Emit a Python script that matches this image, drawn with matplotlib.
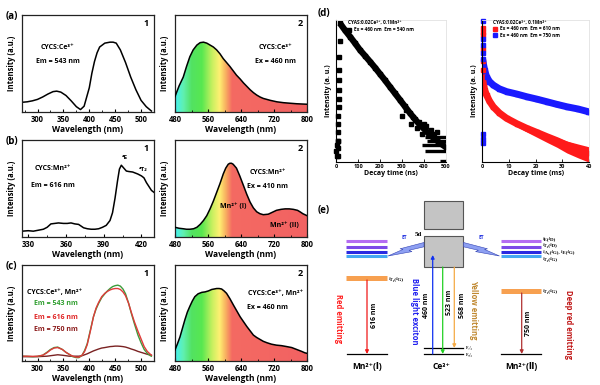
import numpy as np
import matplotlib
matplotlib.use('Agg')
import matplotlib.pyplot as plt
from matplotlib.colors import LinearSegmentedColormap
from matplotlib.patches import Polygon, Rectangle
from matplotlib.ticker import NullLocator

plt.rcParams['font.family'] = ['Open Sans', 'DejaVu Sans', 'Noto Sans CJK SC']
plt.rcParams['font.weight'] = 'bold'

# ---------------- data ----------------
a1_wl = [270, 280, 290, 300, 310, 320, 330, 337, 345, 355, 365, 375, 383, 390, 400, 405, 410, 415, 420, 430, 440, 446, 452, 460, 470, 480, 490, 500, 510, 520]
a1_int = [.10, .105, .115, .13, .155, .185, .21, .215, .205, .17, .115, .055, .025, .06, .25, .40, .52, .61, .67, .71, .72, .72, .71, .64, .51, .36, .23, .12, .055, .01]

a2_wl = [480, 490, 500, 508, 516, 524, 533, 541, 549, 557, 565, 573, 581, 589, 597, 605, 613, 621, 629, 638, 646, 654, 662, 670, 678, 686, 694, 711, 727, 743, 760, 775, 790, 800]
a2_int = [.16, .27, .36, .47, .57, .64, .69, .715, .72, .71, .69, .67, .64, .60, .55, .51, .47, .425, .38, .34, .30, .265, .23, .20, .175, .155, .14, .12, .105, .096, .09, .085, .082, .08]

b1_wl = [325, 330, 334, 338, 342, 345, 348, 351, 354, 358, 361, 364, 367, 370, 374, 377, 380, 383, 386, 389, 392, 395, 397, 399, 401, 402.5, 404, 406, 408, 410, 413, 417, 420, 422, 424, 426, 428, 430]
b1_int = [.06, .065, .06, .07, .08, .10, .135, .14, .145, .14, .14, .145, .135, .13, .095, .085, .08, .08, .085, .10, .12, .17, .25, .40, .58, .70, .74, .71, .68, .675, .67, .65, .63, .61, .56, .52, .48, .46]

b2_wl = [480, 490, 500, 508, 516, 525, 533, 541, 549, 557, 565, 573, 581, 589, 597, 603, 609, 613, 617, 621, 629, 637, 646, 654, 662, 670, 678, 686, 694, 706, 716, 726, 737, 747, 757, 767, 777, 783, 790, 800]
b2_int = [.10, .09, .085, .08, .08, .085, .10, .13, .17, .22, .29, .37, .46, .55, .65, .71, .75, .76, .76, .75, .71, .63, .53, .44, .36, .30, .26, .24, .23, .235, .255, .275, .285, .29, .29, .285, .275, .26, .24, .22]

c1_wl = [270, 280, 291, 300, 310, 318, 325, 332, 339, 348, 355, 361, 368, 375, 380, 386, 391, 396, 402, 408, 413, 418, 424, 430, 435, 440, 445, 450, 455, 460, 465, 470, 476, 481, 487, 494, 500, 506, 512, 518, 520]
c1_em543 = [.05, .048, .045, .048, .06, .09, .12, .14, .145, .12, .09, .07, .045, .035, .035, .06, .11, .18, .32, .46, .54, .60, .66, .70, .73, .755, .775, .785, .79, .78, .75, .70, .60, .50, .39, .27, .19, .12, .08, .055, .05]
c1_em616 = [.05, .05, .048, .05, .06, .085, .115, .135, .14, .12, .09, .07, .05, .04, .04, .06, .10, .17, .31, .46, .55, .61, .67, .705, .725, .74, .75, .755, .755, .745, .72, .68, .60, .51, .41, .31, .23, .15, .10, .07, .06]
c1_em750 = [.045, .045, .045, .045, .048, .05, .055, .06, .065, .06, .055, .05, .05, .05, .05, .055, .065, .075, .09, .105, .115, .125, .135, .14, .145, .15, .152, .155, .155, .153, .15, .145, .135, .125, .115, .10, .09, .08, .07, .062, .06]

c2_wl = [480, 486, 492, 498, 504, 510, 516, 522, 528, 536, 545, 553, 561, 569, 575, 581, 587, 593, 599, 605, 613, 622, 630, 638, 646, 654, 662, 670, 678, 686, 694, 703, 714, 726, 738, 751, 763, 775, 787, 795, 800]
c2_int = [.115, .18, .25, .34, .43, .51, .57, .625, .67, .70, .715, .72, .73, .745, .75, .755, .755, .75, .73, .705, .65, .58, .52, .46, .41, .36, .315, .27, .245, .225, .205, .19, .175, .165, .16, .15, .14, .12, .10, .085, .08]

spec_stops = [(480, '#45f0f0'), (500, '#60f0b0'), (520, '#52e262'), (545, '#58e850'), (570, '#c8f060'),
              (588, '#fff072'), (603, '#f8b060'), (618, '#f46a62'), (800, '#f26262')]

# decay curves (d)
d1_t = [18, 40, 64, 87, 109, 132, 155, 178, 200, 223, 245, 268, 291, 313, 336, 359, 382, 405, 427, 450, 473, 500]
d1_I = [8100, 5240, 3390, 2200, 1430, 980, 668, 450, 302, 200, 132, 86, 56, 37, 24, 16, 11, 8, 5.7, 4.4, 3.4, 2.6]
d1_rise_t = [9, 9, 10, 10, 11, 11, 12, 12, 13, 13, 14, 15, 16, 2, 4, 6, 8]
d1_rise_I = [1.5, 2.5, 4, 7, 12, 20, 35, 60, 110, 200, 400, 900, 2500, 2, 3, 1.5, 4]
d1_noise_t = [300, 320, 340, 352, 366, 378, 392, 400, 408, 418, 430, 445, 460]
d1_noise_I = [20, 30, 12, 18, 9, 13, 6, 12, 10, 7, 8, 6, 7]
d1_band_lvl = [5, 4, 3, 2, 1.1]
d1_band_start = [404, 412, 390, 404, 473]

d2_blue_t = [0.5, 1.0, 1.7, 2.8, 4.2, 6.5, 9.2, 13, 16.7, 20.5, 24.2, 28, 31.7, 36, 39.8]
d2_blue_I = [600, 380, 252, 185, 147, 115, 96, 82, 69, 59, 50, 42, 36, 31, 26]
d2_red_t = [0.25, 0.6, 1.0, 1.7, 2.8, 4.2, 6.5, 9.2, 13, 16.7, 20.5, 24.2, 28, 31.7, 36, 39.8]
d2_red_I = [230, 150, 105, 77, 52, 36, 24, 17, 12, 8.9, 6.8, 5.2, 4.0, 3.0, 2.3, 1.76]
d2_red_band_t = [13, 16.7, 20.5, 24.2, 28, 31.7, 36, 39.8]
d2_red_band_hi = [13, 10, 7.8, 6.2, 4.9, 3.9, 3.2, 2.7]
d2_red_band_lo = [10, 7.0, 5.0, 3.6, 2.6, 1.8, 1.3, 1.0]
d2_blue_col_I = [9600, 3000, 2000, 1200, 800, 6, 4.5, 3.5]
d2_red_col_I = [6000, 4700, 3900, 1500, 700, 400]

# energy diagram (e), positions in figure pixels
mn_levels_y = [241, 246.5, 251.5, 255.5]
mn_level_colors = ['#b46cf2', '#7c48e8', '#2a2ae0', '#44a8f2']
mn_level_names = ['⁴E(⁴D)', '⁴T₂(⁴D)', '⁴A₁(⁴G), ⁴E(⁴G)', '⁴T₂(⁴G)']
mn_level_name_y = [238.5, 246, 252.7, 259.3]

W, H = 600, 385
fig = plt.figure(figsize=(6, 3.85), dpi=100)


def add_ax(x0, y0, x1, y1):
    return fig.add_axes([x0 / W, 1 - y1 / H, (x1 - x0) / W, (y1 - y0) / H])


spec_cmap = LinearSegmentedColormap.from_list(
    'spec', [((w - 480) / 320, c) for w, c in spec_stops])


def spec_axes(ax, xlim, xticks, minor):
    ax.set_xlim(*xlim)
    ax.set_ylim(0, 1)
    ax.set_xticks(xticks)
    ax.set_xticks(minor, minor=True)
    ax.set_yticks([])
    ax.tick_params(axis='x', direction='in', length=2.5, width=0.8, labelsize=5.5, pad=2)
    ax.tick_params(axis='x', which='minor', direction='in', length=1.5, width=0.6)
    for s in ax.spines.values():
        s.set_linewidth(0.9)
        s.set_color('#222222')
    ax.set_xlabel('Wavelength (nm)', fontsize=6, fontweight='bold', labelpad=1)
    ax.set_ylabel('Intensity (a.u.)', fontsize=5.5, fontweight='bold', labelpad=4)


def grad_fill(ax, x, y):
    poly, = ax.fill(np.r_[x, x[-1], x[0]], np.r_[y, 0, 0], facecolor='none', edgecolor='none')
    grad = np.linspace(0, 1, 256).reshape(1, -1)
    im = ax.imshow(grad, extent=[480, 800, 0, 1], aspect='auto', cmap=spec_cmap,
                   origin='lower', zorder=1, interpolation='bilinear')
    im.set_clip_path(poly)
    ax.plot(x, y, color='k', lw=1.1, zorder=3)


left_ticks = [300, 350, 400, 450, 500]
left_minor = [275, 325, 375, 425, 475, 525]
right_ticks = [480, 560, 640, 720, 800]
right_minor = [520, 600, 680, 760]

# ---- a1 ----
ax = add_ax(22, 15, 154, 112)
ax.plot(a1_wl, a1_int, color='k', lw=1.1)
spec_axes(ax, (270, 520), left_ticks, left_minor)
ax.text(0.96, 0.91, '1', transform=ax.transAxes, ha='right', va='center', fontsize=6.5)
ax.text(0.27, 0.66, 'CYCS:Ce³⁺', transform=ax.transAxes, ha='center', va='center', fontsize=5)
ax.text(0.27, 0.52, 'Em = 543 nm', transform=ax.transAxes, ha='center', va='center', fontsize=5)
# ---- a2 ----
ax = add_ax(175, 15, 307, 112)
grad_fill(ax, a2_wl, a2_int)
spec_axes(ax, (480, 800), right_ticks, right_minor)
ax.text(0.97, 0.91, '2', transform=ax.transAxes, ha='right', va='center', fontsize=6.5)
ax.text(0.76, 0.66, 'CYCS:Ce³⁺', transform=ax.transAxes, ha='center', va='center', fontsize=5)
ax.text(0.76, 0.52, 'Ex = 460 nm', transform=ax.transAxes, ha='center', va='center', fontsize=5)

# ---- b1 ----
ax = add_ax(22, 140, 154, 237)
ax.plot(b1_wl, b1_int, color='k', lw=1.1)
spec_axes(ax, (325, 430), [330, 360, 390, 420], [345, 375, 405])
ax.text(0.96, 0.91, '1', transform=ax.transAxes, ha='right', va='center', fontsize=6.5)
ax.text(0.235, 0.71, 'CYCS:Mn²⁺', transform=ax.transAxes, ha='center', va='center', fontsize=5)
ax.text(0.235, 0.53, 'Em = 616 nm', transform=ax.transAxes, ha='center', va='center', fontsize=5)
ax.text(406.5, 0.815, '⁴E', ha='center', va='center', fontsize=4.5)
ax.text(421.5, 0.70, '⁴T₂', ha='center', va='center', fontsize=4.5)
# ---- b2 ----
ax = add_ax(175, 140, 307, 237)
grad_fill(ax, b2_wl, b2_int)
spec_axes(ax, (480, 800), right_ticks, right_minor)
ax.text(0.97, 0.91, '2', transform=ax.transAxes, ha='right', va='center', fontsize=6.5)
ax.text(0.70, 0.67, 'CYCS:Mn²⁺', transform=ax.transAxes, ha='center', va='center', fontsize=5)
ax.text(0.70, 0.52, 'Ex = 410 nm', transform=ax.transAxes, ha='center', va='center', fontsize=5)
ax.text(0.44, 0.315, 'Mn²⁺ (I)', transform=ax.transAxes, ha='center', va='center', fontsize=5)
ax.text(0.83, 0.12, 'Mn²⁺ (II)', transform=ax.transAxes, ha='center', va='center', fontsize=5)

# ---- c1 ----
ax = add_ax(22, 265, 154, 361)
ax.plot(c1_wl, c1_em750, color='#7a2222', lw=1.0)
ax.plot(c1_wl, c1_em543, color='#3c9c3c', lw=1.0)
ax.plot(c1_wl, c1_em616, color='#e03a3a', lw=1.0)
spec_axes(ax, (270, 520), left_ticks, left_minor)
ax.text(0.96, 0.91, '1', transform=ax.transAxes, ha='right', va='center', fontsize=6.5)
ax.text(0.25, 0.71, 'CYCS:Ce³⁺, Mn²⁺', transform=ax.transAxes, ha='center', va='center', fontsize=5)
ax.text(0.09, 0.60, 'Em = 543 nm', transform=ax.transAxes, ha='left', va='center', fontsize=5, color='#2e9e2e')
ax.text(0.09, 0.45, 'Em = 616 nm', transform=ax.transAxes, ha='left', va='center', fontsize=5, color='#e02424')
ax.text(0.09, 0.33, 'Em = 750 nm', transform=ax.transAxes, ha='left', va='center', fontsize=5, color='#8b1a1a')
# ---- c2 ----
ax = add_ax(175, 265, 307, 361)
grad_fill(ax, c2_wl, c2_int)
spec_axes(ax, (480, 800), right_ticks, right_minor)
ax.text(0.97, 0.91, '2', transform=ax.transAxes, ha='right', va='center', fontsize=6.5)
ax.text(0.76, 0.70, 'CYCS:Ce³⁺, Mn²⁺', transform=ax.transAxes, ha='center', va='center', fontsize=5)
ax.text(0.70, 0.56, 'Ex = 460 nm', transform=ax.transAxes, ha='center', va='center', fontsize=5)


# ---- d ----
def decay_axes(ax, xlim, xticks, xlabel):
    ax.set_yscale('log')
    ax.set_ylim(1, 1e4)
    ax.set_xlim(*xlim)
    ax.set_xticks(xticks)
    ax.yaxis.set_major_locator(NullLocator())
    ax.yaxis.set_minor_locator(NullLocator())
    ax.tick_params(axis='x', direction='in', length=2, width=0.6, labelsize=4, pad=1.5)
    for s in ['top', 'right']:
        ax.spines[s].set_color('#e2e2e2')
        ax.spines[s].set_linewidth(0.6)
    for s in ['left', 'bottom']:
        ax.spines[s].set_linewidth(0.8)
    ax.set_xlabel(xlabel, fontsize=5, fontweight='bold', labelpad=1)
    ax.set_ylabel('Intensity (a. u.)', fontsize=5, fontweight='bold', labelpad=3)


ax = add_ax(336, 20, 446, 162)
decay_axes(ax, (0, 500), [0, 100, 200, 300, 400, 500], 'Decay time (ns)')
ax.hlines(d1_band_lvl, d1_band_start, [500] * len(d1_band_lvl), color='k', lw=2.4, clip_on=True)
ax.plot(d1_t, d1_I, color='k', lw=4.5, solid_capstyle='butt')
h1, = ax.plot(d1_t, d1_I, 's', color='k', ms=2.5, label='Ex = 460 nm  Em = 540 nm')
ax.plot(d1_rise_t, d1_rise_I, 's', color='k', ms=2.2, clip_on=False)
ax.plot(d1_noise_t, d1_noise_I, 's', color='k', ms=2.2)
leg = ax.legend(handles=[h1], loc='upper left', bbox_to_anchor=(0.08, 1.02), frameon=False,
                fontsize=3.4, title='CYAS:0.02Ce³⁺, 0.1Mn²⁺', title_fontsize=3.4,
                handlelength=0.6, handletextpad=0.8, borderaxespad=0.2)
leg._legend_box.align = 'left'

ax = add_ax(482, 20, 589, 162)
decay_axes(ax, (0, 40), [0, 10, 20, 30, 40], 'Decay time (ms)')
ax.plot(d2_blue_t, d2_blue_I, color='#1a1aff', lw=5.0)
ax.plot(d2_red_t, d2_red_I, color='#ff1a1a', lw=5.0)
ax.fill_between(d2_red_band_t, d2_red_band_lo, d2_red_band_hi, color='#ff1a1a', lw=0)
hr, = ax.plot(d2_red_t, d2_red_I, 's', color='#ff1a1a', ms=2.2, label='Ex = 460 nm  Em = 610 nm')
hb, = ax.plot(d2_blue_t, d2_blue_I, 's', color='#1a1aff', ms=2.2, label='Ex = 460 nm  Em = 750 nm')
ax.plot([0.2] * len(d2_red_col_I), d2_red_col_I, 's', color='#ff1a1a', ms=2.2, clip_on=False)
ax.plot([0.2] * len(d2_blue_col_I), d2_blue_col_I, 's', color='#1a1aff', ms=2.2, clip_on=False)
leg = ax.legend(handles=[hr, hb], loc='upper left', bbox_to_anchor=(0.08, 1.02), frameon=False,
                fontsize=3.4, title='CYAS:0.02Ce³⁺, 0.1Mn²⁺', title_fontsize=3.4,
                handlelength=0.6, handletextpad=0.8, borderaxespad=0.2, labelspacing=0.3)
leg._legend_box.align = 'left'

# ---- overlay for (e) and panel letters ----
ov = fig.add_axes([0, 0, 1, 1])
ov.set_xlim(0, W)
ov.set_ylim(H, 0)
ov.axis('off')
ov.patch.set_visible(False)

for lab, (x, y) in zip(['(a)', '(b)', '(c)', '(d)', '(e)'],
                       [(11.5, 16.5), (11.5, 141.5), (11.5, 266.5), (323.5, 13.5), (323.5, 210)]):
    ov.text(x, y, lab, ha='center', va='center', fontsize=7)

# gray boxes
ov.add_patch(Rectangle((424, 201), 39, 28, facecolor='#c4c4c4', edgecolor='#555555', lw=0.8))
ov.add_patch(Rectangle((424, 236), 39, 31, facecolor='#c4c4c4', edgecolor='#555555', lw=0.8))
ov.text(418, 234.5, '5d', ha='center', va='center', fontsize=5, family=['Liberation Serif', 'DejaVu Serif'])

# Mn excited levels
for y, c in zip(mn_levels_y, mn_level_colors):
    ov.plot([346, 387], [y, y], color=c, lw=2.2, solid_capstyle='butt')
    ov.plot([501, 541], [y, y], color=c, lw=2.2, solid_capstyle='butt')
for n, y in zip(mn_level_names, mn_level_name_y):
    ov.text(543, y, n, ha='left', va='center', fontsize=3.6, family=['Liberation Serif', 'DejaVu Serif'])

# 4T1 levels
ov.plot([346, 387], [277.7, 277.7], color='#f7a050', lw=3.6, solid_capstyle='butt')
ov.plot([501, 541], [290.7, 290.7], color='#f7a050', lw=3.6, solid_capstyle='butt')
ov.text(389, 279, '⁴T₁(⁴G)', ha='left', va='center', fontsize=3.6, family=['Liberation Serif', 'DejaVu Serif'])
ov.text(543, 291.5, '⁴T₁(⁴G)', ha='left', va='center', fontsize=3.6, family=['Liberation Serif', 'DejaVu Serif'])

# ground levels
ov.plot([347, 387], [354.3, 354.3], color='k', lw=0.9)
ov.plot([501, 541], [354.3, 354.3], color='k', lw=0.9)
ov.plot([424, 463], [354.3, 354.3], color='k', lw=0.9)
ov.plot([424, 463], [347.7, 347.7], color='k', lw=0.9)
ov.text(466, 347.5, '²F₇/₂', ha='left', va='center', fontsize=2.8, family=['Liberation Serif', 'DejaVu Serif'])
ov.text(466, 355, '²F₅/₂', ha='left', va='center', fontsize=2.8, family=['Liberation Serif', 'DejaVu Serif'])

# ET bolts
bolt = [(424, 242.5), (424, 246.8), (409, 250.3), (412, 251.6), (388, 256), (403, 249.4), (400, 248.8)]
ov.add_patch(Polygon(bolt, closed=True, facecolor='#8d9ff2', edgecolor='#3444b4', lw=0.4))
ov.add_patch(Polygon([(887.5 - x, y) for x, y in bolt], closed=True, facecolor='#8d9ff2',
                     edgecolor='#3444b4', lw=0.4))
ov.text(404.3, 237.7, 'ET', ha='center', va='center', fontsize=3.5, color='#2030e0')
ov.text(481.7, 237.7, 'ET', ha='center', va='center', fontsize=3.5, color='#2030e0')


def arrow(x, y0, y1, c):
    ov.annotate('', xy=(x, y1), xytext=(x, y0),
                arrowprops=dict(arrowstyle='-|>', color=c, lw=0.9, mutation_scale=5, shrinkA=0, shrinkB=0))


arrow(367, 280, 354, '#f01818')
arrow(432.7, 354, 255, '#1030f0')
arrow(442.7, 267, 354, '#22d022')
arrow(454.3, 267, 348, '#f5aa45')
arrow(521.7, 293, 354, '#b03030')

for txt, x, y in [('616 nm', 374.5, 315), ('460 nm', 427, 305), ('523 nm', 449.5, 302),
                  ('568 nm', 462.5, 305), ('750 nm', 528.5, 323)]:
    ov.text(x, y, txt, ha='center', va='center', rotation=90, fontsize=5)

for txt, x, y, c in [('Red emitting', 338.3, 318.3, '#ff2020'),
                     ('Blue light exciton', 414, 311, '#2020f0'),
                     ('Yellow emitting', 474, 310, '#c08830'),
                     ('Deep red emitting', 568.3, 325, '#c01818')]:
    ov.text(x, y, txt, ha='center', va='center', rotation=-90, fontsize=5.5, color=c)

ov.text(366.7, 366.7, 'Mn²⁺(Ⅰ)', ha='center', va='center', fontsize=6)
ov.text(441.7, 366.7, 'Ce³⁺', ha='center', va='center', fontsize=6)
ov.text(521.7, 366.7, 'Mn²⁺(Ⅱ)', ha='center', va='center', fontsize=6)

fig.savefig('out.png', dpi=100)
